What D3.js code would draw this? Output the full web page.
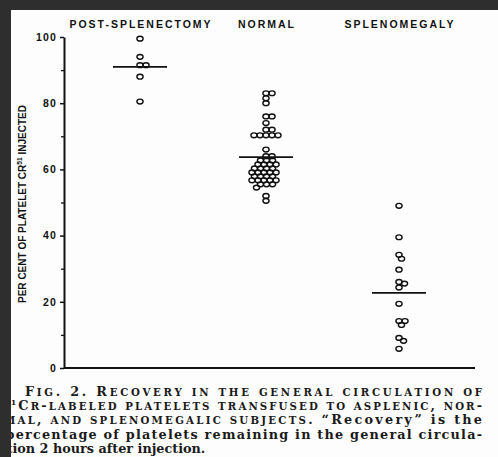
<!DOCTYPE html>
<html>
<head>
<meta charset="utf-8">
<script src="https://cdn.jsdelivr.net/npm/d3@7/dist/d3.min.js"></script>
<style>
  html, body { margin: 0; padding: 0; background: #2e2e2e; }
  svg { display: block; }
</style>
</head>
<body>
<div id="chart"></div>
<script>
/**
 * data
 */
const categories = ["POST-SPLENECTOMY", "NORMAL", "SPLENOMEGALY"];

const postSplenectomy = [99.5, 94, 91.5, 91.5, 88, 80.5];

const normal = [83, 83, 81.5, 80,
                76, 76, 74, 72, 72,
                70.3, 70.3, 70.3, 70.3, 70.3,
                66, 64, 64,
                62.7, 62.7, 62.7,
                61.5, 61.5, 61.5, 61.5,
                60.3, 60.3, 60.3, 60.3,
                59.1, 59.1, 59.1, 59.1, 59.1,
                57.9, 57.9, 57.9, 57.9,
                56.7, 56.7, 56.7, 56.7, 56.7,
                55.5, 55.5, 55.5, 54.5,
                52, 50.5];

const splenomegaly = [49, 39.5, 34.2, 33, 29.7, 26, 25.5, 24.3,
                      19.4, 14.2, 14.2, 13, 9.1, 8.2, 5.8];

const means = [91, 63.7, 22.7];

const yTicks = [0, 20, 40, 60, 80, 100];
const yMinorTicks = [10, 30, 50, 70, 90];

const captionLines = [
    [{ t: "Fig. 2.  Recovery in the general circulation of", sc: true }],
    [{ t: "51", sup: true }, { t: "Cr-labeled platelets transfused to asplenic, nor-", sc: true }],
    [{ t: "mal, and splenomegalic subjects.", sc: true }, { t: "  \u201CRecovery\u201D is the" }],
    [{ t: "percentage of platelets remaining in the general circula-" }],
    [{ t: "tion 2 hours after injection." }]
];

/**
 * layout constants
 */
const WIDTH = 498;
const HEIGHT = 457;
const RX = 3.1;
const RY = 2.4;
const MEAN_HALF = 27;
const CAP_FONT = 12.8;
const SC_FONT = 10.2;

const svg = d3.select("#chart").append("svg")
    .attr("width", WIDTH)
    .attr("height", HEIGHT);

svg.append("rect")
    .attr("width", WIDTH)
    .attr("height", HEIGHT)
    .attr("fill", "#2e2e2e");

svg.append("rect")
    .attr("x", 11)
    .attr("y", 10)
    .attr("width", WIDTH - 11)
    .attr("height", HEIGHT - 10)
    .attr("fill", "#fdfdfd");

const y = d3.scaleLinear().domain([0, 100]).range([368, 37]);
const x = d3.scaleOrdinal().domain(categories).range([140, 266, 399]);

// y axis, major + minor ticks
const axisG = svg.append("g").attr("transform", "translate(64,0)");
axisG.call(d3.axisLeft(y).tickValues(yTicks).tickSize(4).tickPadding(3).tickSizeOuter(0));
axisG.select(".domain").attr("stroke", "#111").attr("stroke-width", 2);
axisG.selectAll(".tick line").attr("stroke", "#111").attr("stroke-width", 1.5);
axisG.selectAll(".tick text")
    .attr("fill", "#111")
    .style("font-family", "'Liberation Sans', Arial, sans-serif")
    .style("font-weight", "bold")
    .style("font-size", "10.5px")
    .style("letter-spacing", "1.2px");

const minorG = svg.append("g").attr("transform", "translate(64,0)");
minorG.call(d3.axisLeft(y).tickValues(yMinorTicks).tickSize(3).tickFormat(() => ""));
minorG.select(".domain").remove();
minorG.selectAll(".tick line").attr("stroke", "#111").attr("stroke-width", 1.3);

// baseline
svg.append("line")
    .attr("x1", 64)
    .attr("x2", 475)
    .attr("y1", y(0))
    .attr("y2", y(0))
    .attr("stroke", "#111")
    .attr("stroke-width", 2);

// y axis title
const yTitle = svg.append("text")
    .attr("transform", "translate(26,204) rotate(-90)")
    .attr("text-anchor", "middle")
    .attr("fill", "#111")
    .attr("textLength", 198)
    .attr("lengthAdjust", "spacingAndGlyphs")
    .style("font-family", "'Liberation Sans', Arial, sans-serif")
    .style("font-weight", "bold")
    .style("font-size", "10.5px");
yTitle.append("tspan").text("PER CENT OF PLATELET CR");
yTitle.append("tspan").attr("dy", -4).style("font-size", "7px").text("51");
yTitle.append("tspan").attr("dy", 4).text(" INJECTED");

// column headers
svg.selectAll(".colLabel")
    .data(categories)
    .enter()
    .append("text")
    .attr("class", "colLabel")
    .attr("x", d => x(d) + 1)
    .attr("y", 28)
    .attr("text-anchor", "middle")
    .attr("fill", "#111")
    .style("font-family", "'Liberation Sans', Arial, sans-serif")
    .style("font-weight", "bold")
    .style("font-size", "10.5px")
    .style("letter-spacing", "2px")
    .text(d => d);

/**
 * simple dodge so that equal values sit side by side
 */
function swarm(values, cx) {
    const placed = [];
    const k = 0.9;
    values.forEach(v => {
        const cy = y(v);
        let off = 0;
        for (let i = 0; i < 400; i++) {
            off = i === 0 ? 0 : (i % 2 ? 1 : -1) * Math.ceil(i / 2) * 0.5;
            const hit = placed.some(p => {
                const a = (p.x - (cx + off)) / (2 * RX * k);
                const b = (p.y - cy) / (2 * RY * k);
                return a * a + b * b < 1;
            });
            if (!hit) break;
        }
        placed.push({ x: cx + off, y: cy, v: v });
    });
    return placed;
}

const groups = [postSplenectomy, normal, splenomegaly];

groups.forEach((vals, i) => {
    const pts = swarm(vals, x(categories[i]));
    svg.append("g")
        .selectAll("ellipse")
        .data(pts)
        .enter()
        .append("ellipse")
        .attr("cx", d => d.x)
        .attr("cy", d => d.y)
        .attr("rx", RX)
        .attr("ry", RY)
        .attr("fill", "none")
        .attr("stroke", "#111")
        .attr("stroke-width", 1.4);
});

// mean bars
svg.selectAll(".meanLine")
    .data(means)
    .enter()
    .append("line")
    .attr("class", "meanLine")
    .attr("x1", (d, i) => x(categories[i]) - MEAN_HALF)
    .attr("x2", (d, i) => x(categories[i]) + MEAN_HALF)
    .attr("y1", d => y(d))
    .attr("y2", d => y(d))
    .attr("stroke", "#111")
    .attr("stroke-width", 1.8);

// caption, small caps done by hand: lower case letters -> smaller capitals
const capStarts = [25, 3, 4, 5.5, 6.5];
const capEnds = [482, 482, 482, 482, null];
captionLines.forEach((parts, i) => {
    const t = svg.append("text")
        .attr("x", capStarts[i])
        .attr("y", 396 + i * 14.2)
        .attr("fill", "#1a1a1a")
        .style("font-family", "'DejaVu Serif', serif")
        .style("font-weight", "bold")
        .style("font-size", CAP_FONT + "px");
    if (capEnds[i] !== null) {
        t.attr("textLength", capEnds[i] - capStarts[i]).attr("lengthAdjust", "spacing");
    }
    let shiftBack = false;
    parts.forEach(p => {
        if (p.sup) {
            t.append("tspan").attr("dy", -5).style("font-size", "8px").text(p.t);
            shiftBack = true;
            return;
        }
        const runs = p.sc ? p.t.match(/[a-z]+|[^a-z]+/g) : [p.t];
        runs.forEach(r => {
            const s = t.append("tspan");
            if (p.sc && /^[a-z]/.test(r)) {
                s.style("font-size", SC_FONT + "px").text(r.toUpperCase());
            } else {
                s.text(r);
            }
            if (shiftBack) { s.attr("dy", 5); shiftBack = false; }
        });
    });
});

// left frame drawn last so it clips the caption edge
svg.append("rect")
    .attr("x", 0)
    .attr("y", 0)
    .attr("width", 11)
    .attr("height", HEIGHT)
    .attr("fill", "#2e2e2e");
</script>
</body>
</html>
